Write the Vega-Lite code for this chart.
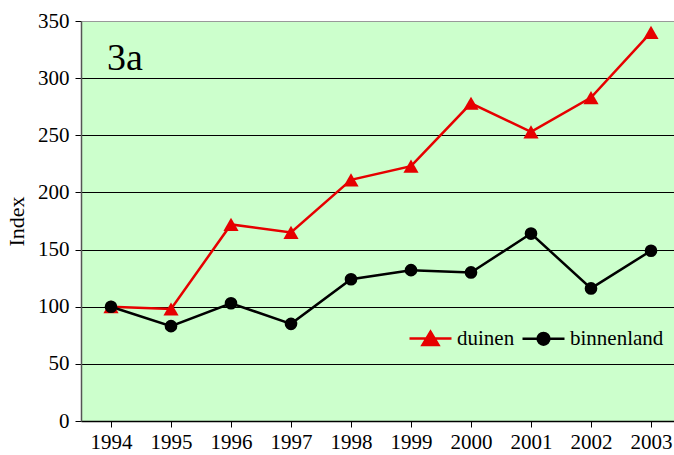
{
  "$schema": "https://vega.github.io/schema/vega-lite/v6.json",
  "width": 593,
  "height": 400,
  "autosize": "none",
  "padding": {"left": 81, "top": 21, "right": 0, "bottom": 34},
  "background": "white",
  "config": {
    "view": {"fill": "#ccffcc", "stroke": null},
    "font": "Liberation Serif",
    "axis": {"labelFont": "Liberation Serif", "titleFont": "Liberation Serif"},
    "legend": {"labelFont": "Liberation Serif"},
    "text": {"font": "Liberation Serif"}
  },
  "data": {
    "values": [
      {"year": "1994", "series": "duinen", "index": 100},
      {"year": "1995", "series": "duinen", "index": 98},
      {"year": "1996", "series": "duinen", "index": 172},
      {"year": "1997", "series": "duinen", "index": 165},
      {"year": "1998", "series": "duinen", "index": 211},
      {"year": "1999", "series": "duinen", "index": 223},
      {"year": "2000", "series": "duinen", "index": 278},
      {"year": "2001", "series": "duinen", "index": 253},
      {"year": "2002", "series": "duinen", "index": 283},
      {"year": "2003", "series": "duinen", "index": 340},
      {"year": "1994", "series": "binnenland", "index": 100},
      {"year": "1995", "series": "binnenland", "index": 83},
      {"year": "1996", "series": "binnenland", "index": 103},
      {"year": "1997", "series": "binnenland", "index": 85},
      {"year": "1998", "series": "binnenland", "index": 124},
      {"year": "1999", "series": "binnenland", "index": 132},
      {"year": "2000", "series": "binnenland", "index": 130},
      {"year": "2001", "series": "binnenland", "index": 164},
      {"year": "2002", "series": "binnenland", "index": 116},
      {"year": "2003", "series": "binnenland", "index": 149}
    ]
  },
  "encoding": {
    "x": {
      "field": "year",
      "type": "ordinal",
      "scale": {
        "domain": ["1994", "1995", "1996", "1997", "1998", "1999", "2000", "2001", "2002", "2003"],
        "range": [0, 600],
        "paddingInner": 0,
        "paddingOuter": 0
      },
      "axis": {
        "title": null,
        "labelAngle": 0,
        "bandPosition": 0,
        "labelFont": "Liberation Serif",
        "labelFontSize": 21,
        "labelColor": "black",
        "labelPadding": 4,
        "tickSize": 6,
        "tickColor": "black",
        "domainColor": "black",
        "domainWidth": 1.5,
        "grid": false
      }
    },
    "y": {
      "field": "index",
      "type": "quantitative",
      "scale": {"domain": [0, 350], "nice": false},
      "axis": {
        "title": "Index",
        "titleFont": "Liberation Serif",
        "titleFontSize": 22,
        "titleFontWeight": "normal",
        "titleColor": "black",
        "titlePadding": 9,
        "values": [0, 50, 100, 150, 200, 250, 300, 350],
        "labelFont": "Liberation Serif",
        "labelFontSize": 21,
        "labelColor": "black",
        "labelPadding": 6,
        "tickSize": 6,
        "tickColor": "black",
        "domainColor": "#555555",
        "domainWidth": 1.5,
        "grid": true,
        "gridColor": {"condition": {"test": "datum.value === 350", "value": "#999999"}, "value": "black"},
        "gridOpacity": 1,
        "gridWidth": 1
      }
    },
    "color": {
      "field": "series",
      "type": "nominal",
      "scale": {"domain": ["duinen", "binnenland"], "range": ["#e60000", "#000000"]},
      "legend": {
        "title": null,
        "orient": "none",
        "legendX": 327,
        "legendY": 295,
        "direction": "horizontal",
        "symbolSize": 1764,
        "symbolStrokeWidth": 2.5,
        "labelFont": "Liberation Serif",
        "labelFontSize": 21,
        "labelColor": "black",
        "labelOffset": 4,
        "columnPadding": 2,
        "encode": {
          "symbols": {
            "update": {
              "shape": {"signal": "datum.value === 'duinen' ? 'M-1,0H1M0,-0.33L0.38,0.3L-0.38,0.3Z' : 'M-1,0H1M-0.28,0A0.28,0.28,0,1,1,0.28,0A0.28,0.28,0,1,1,-0.28,0Z'"},
              "stroke": {"signal": "datum.value === 'duinen' ? '#e60000' : '#000000'"},
              "fill": {"signal": "datum.value === 'duinen' ? '#e60000' : '#000000'"},
              "fillOpacity": {"value": 1},
              "strokeOpacity": {"value": 1},
              "strokeWidth": {"value": 2.5},
              "opacity": {"value": 1}
            }
          }
        }
      }
    }
  },
  "layer": [
    {
      "mark": {"type": "line", "strokeWidth": 2.5}
    },
    {
      "mark": {"type": "point", "filled": true, "opacity": 1},
      "encoding": {
        "shape": {
          "condition": {"test": "datum.series === 'duinen'", "value": "triangle-up"},
          "value": "circle"
        },
        "size": {
          "condition": {"test": "datum.series === 'duinen'", "value": 230},
          "value": 160
        }
      }
    },
    {
      "data": {"values": [{"label": "3a", "year": "1994", "v": 307}]},
      "mark": {"type": "text", "align": "left", "baseline": "alphabetic", "fontSize": 38, "dx": -4, "color": "black", "font": "Liberation Serif"},
      "encoding": {
        "x": {"field": "year", "type": "ordinal"},
        "y": {"field": "v", "type": "quantitative"},
        "text": {"field": "label"},
        "color": {"value": "black"}
      }
    }
  ]
}
